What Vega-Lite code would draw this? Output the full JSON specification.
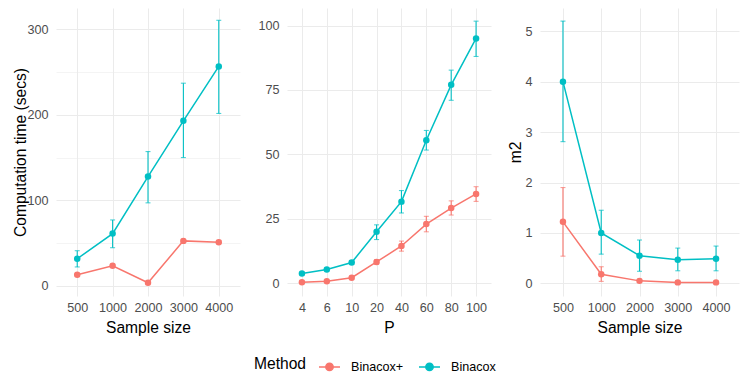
{
  "$schema": "https://vega.github.io/schema/vega-lite/v6.json",
  "padding": {"left": 13, "top": 8, "right": 5, "bottom": 5},
  "background": "white",
  "spacing": 17,
  "datasets": {
    "time_n": [
      {"x": 500, "method": "Binacox+", "value": 12.9, "lo": 11.5, "hi": 14.3},
      {"x": 1000, "method": "Binacox+", "value": 23.4, "lo": 22, "hi": 25},
      {"x": 2000, "method": "Binacox+", "value": 3.5, "lo": 2.8, "hi": 4.2},
      {"x": 3000, "method": "Binacox+", "value": 52.5, "lo": 51, "hi": 54},
      {"x": 4000, "method": "Binacox+", "value": 51, "lo": 49.5, "hi": 52.5},
      {"x": 500, "method": "Binacox", "value": 31.6, "lo": 22, "hi": 41},
      {"x": 1000, "method": "Binacox", "value": 61, "lo": 44.5, "hi": 77},
      {"x": 2000, "method": "Binacox", "value": 127.7, "lo": 97, "hi": 157},
      {"x": 3000, "method": "Binacox", "value": 193, "lo": 150, "hi": 237},
      {"x": 4000, "method": "Binacox", "value": 256.6, "lo": 201.6, "hi": 310.6}
    ],
    "time_p": [
      {"x": 4, "method": "Binacox+", "value": 0.4, "lo": 0.2, "hi": 0.6},
      {"x": 6, "method": "Binacox+", "value": 0.8, "lo": 0.5, "hi": 1.1},
      {"x": 10, "method": "Binacox+", "value": 2.2, "lo": 1.7, "hi": 2.7},
      {"x": 20, "method": "Binacox+", "value": 8.3, "lo": 7.4, "hi": 9.2},
      {"x": 40, "method": "Binacox+", "value": 14.5, "lo": 12.5, "hi": 16.4},
      {"x": 60, "method": "Binacox+", "value": 23, "lo": 20, "hi": 26},
      {"x": 80, "method": "Binacox+", "value": 29.2, "lo": 26.5, "hi": 32},
      {"x": 100, "method": "Binacox+", "value": 34.7, "lo": 31.8, "hi": 37.5},
      {"x": 4, "method": "Binacox", "value": 3.8, "lo": 3.4, "hi": 4.2},
      {"x": 6, "method": "Binacox", "value": 5.4, "lo": 4.9, "hi": 5.9},
      {"x": 10, "method": "Binacox", "value": 8.1, "lo": 7.4, "hi": 8.8},
      {"x": 20, "method": "Binacox", "value": 20, "lo": 17, "hi": 22.7},
      {"x": 40, "method": "Binacox", "value": 31.7, "lo": 27.3, "hi": 36},
      {"x": 60, "method": "Binacox", "value": 55.5, "lo": 51.7, "hi": 59.3},
      {"x": 80, "method": "Binacox", "value": 77, "lo": 71, "hi": 82.7},
      {"x": 100, "method": "Binacox", "value": 95, "lo": 88, "hi": 101.7}
    ],
    "m2_n": [
      {"x": 500, "method": "Binacox+", "value": 1.22, "lo": 0.54, "hi": 1.9},
      {"x": 1000, "method": "Binacox+", "value": 0.18, "lo": 0.04, "hi": 0.33},
      {"x": 2000, "method": "Binacox+", "value": 0.05, "lo": 0.02, "hi": 0.08},
      {"x": 3000, "method": "Binacox+", "value": 0.02, "lo": 0.01, "hi": 0.04},
      {"x": 4000, "method": "Binacox+", "value": 0.02, "lo": 0.01, "hi": 0.04},
      {"x": 500, "method": "Binacox", "value": 4.0, "lo": 2.81, "hi": 5.2},
      {"x": 1000, "method": "Binacox", "value": 1.0, "lo": 0.58, "hi": 1.45},
      {"x": 2000, "method": "Binacox", "value": 0.55, "lo": 0.24, "hi": 0.86},
      {"x": 3000, "method": "Binacox", "value": 0.47, "lo": 0.25, "hi": 0.7},
      {"x": 4000, "method": "Binacox", "value": 0.49, "lo": 0.25, "hi": 0.74}
    ]
  },
  "hconcat": [
    {
      "width": 184,
      "height": 288,
      "data": {"name": "time_n"},
      "encoding": {
        "x": {"field": "x", "type": "ordinal", "title": "Sample size", "scale": {"type": "point", "padding": 0.6}, "axis": {"labelAngle": 0, "grid": true}},
        "color": {"field": "method", "type": "nominal", "title": "Method", "scale": {"domain": ["Binacox+", "Binacox"], "range": ["#F8766D", "#00BFC4"]}}
      },
      "layer": [
        {"mark": {"type": "rule", "strokeWidth": 1.1}, "encoding": {"y": {"field": "lo", "type": "quantitative", "scale": {"domain": [-12, 325], "nice": false, "zero": false}, "title": "Computation time (secs)", "axis": {"values": [0, 50, 100, 150, 200, 250, 300], "labelExpr": "datum.value % 100 === 0 ? datum.value + '' : ''", "gridWidth": {"condition": {"test": "datum.value % 100 !== 0", "value": 0.55}, "value": 1.1}}}, "y2": {"field": "hi"}}},
        {"mark": {"type": "tick", "orient": "horizontal", "size": 5, "thickness": 1.1}, "encoding": {"y": {"field": "lo", "type": "quantitative"}}},
        {"mark": {"type": "tick", "orient": "horizontal", "size": 5, "thickness": 1.1}, "encoding": {"y": {"field": "hi", "type": "quantitative"}}},
        {"mark": {"type": "line", "strokeWidth": 1.5}, "encoding": {"y": {"field": "value", "type": "quantitative"}}},
        {"mark": {"type": "point", "filled": true, "size": 42, "opacity": 1}, "encoding": {"y": {"field": "value", "type": "quantitative"}}}
      ]
    },
    {
      "width": 204,
      "height": 288,
      "data": {"name": "time_p"},
      "encoding": {
        "x": {"field": "x", "type": "ordinal", "title": "P", "scale": {"type": "point", "padding": 0.6}, "axis": {"labelAngle": 0, "grid": true}},
        "color": {"field": "method", "type": "nominal", "title": "Method"}
      },
      "layer": [
        {"mark": {"type": "rule", "strokeWidth": 1.1}, "encoding": {"y": {"field": "lo", "type": "quantitative", "scale": {"domain": [-4.9, 106.8], "nice": false, "zero": false}, "title": null, "axis": {"values": [0, 12.5, 25, 37.5, 50, 62.5, 75, 87.5, 100], "labelExpr": "datum.value % 25 === 0 ? datum.value + '' : ''", "gridWidth": {"condition": {"test": "datum.value % 25 !== 0", "value": 0.55}, "value": 1.1}}}, "y2": {"field": "hi"}}},
        {"mark": {"type": "tick", "orient": "horizontal", "size": 5, "thickness": 1.1}, "encoding": {"y": {"field": "lo", "type": "quantitative"}}},
        {"mark": {"type": "tick", "orient": "horizontal", "size": 5, "thickness": 1.1}, "encoding": {"y": {"field": "hi", "type": "quantitative"}}},
        {"mark": {"type": "line", "strokeWidth": 1.5}, "encoding": {"y": {"field": "value", "type": "quantitative"}}},
        {"mark": {"type": "point", "filled": true, "size": 42, "opacity": 1}, "encoding": {"y": {"field": "value", "type": "quantitative"}}}
      ]
    },
    {
      "width": 199,
      "height": 288,
      "data": {"name": "m2_n"},
      "encoding": {
        "x": {"field": "x", "type": "ordinal", "title": "Sample size", "scale": {"type": "point", "padding": 0.6}, "axis": {"labelAngle": 0, "grid": true}},
        "color": {"field": "method", "type": "nominal", "title": "Method"}
      },
      "layer": [
        {"mark": {"type": "rule", "strokeWidth": 1.1}, "encoding": {"y": {"field": "lo", "type": "quantitative", "scale": {"domain": [-0.25, 5.46], "nice": false, "zero": false}, "title": "m2", "axis": {"titlePadding": 1, "values": [0, 0.5, 1, 1.5, 2, 2.5, 3, 3.5, 4, 4.5, 5], "labelExpr": "datum.value % 1 === 0 ? datum.value + '' : ''", "gridWidth": {"condition": {"test": "datum.value % 1 !== 0", "value": 0.55}, "value": 1.1}}}, "y2": {"field": "hi"}}},
        {"mark": {"type": "tick", "orient": "horizontal", "size": 5, "thickness": 1.1}, "encoding": {"y": {"field": "lo", "type": "quantitative"}}},
        {"mark": {"type": "tick", "orient": "horizontal", "size": 5, "thickness": 1.1}, "encoding": {"y": {"field": "hi", "type": "quantitative"}}},
        {"mark": {"type": "line", "strokeWidth": 1.5}, "encoding": {"y": {"field": "value", "type": "quantitative"}}},
        {"mark": {"type": "point", "filled": true, "size": 42, "opacity": 1}, "encoding": {"y": {"field": "value", "type": "quantitative"}}}
      ]
    }
  ],
  "resolve": {"scale": {"color": "shared"}},
  "config": {
    "font": "Liberation Sans",
    "view": {"stroke": null},
    "axis": {
      "domain": false,
      "ticks": false,
      "gridColor": "#EBEBEB",
      "labelColor": "#4D4D4D",
      "labelFontSize": 12.6,
      "labelFont": "Liberation Sans",
      "titleFont": "Liberation Sans",
      "titleFontSize": 15.6,
      "titleFontWeight": "normal",
      "titleColor": "#000000"
    },
    "axisX": {"labelPadding": 5, "titlePadding": 7},
    "axisY": {"labelPadding": 8, "titlePadding": -2},
    "legend": {
      "orient": "none",
      "legendX": 198,
      "legendY": 347,
      "direction": "horizontal",
      "titleOrient": "left",
      "symbolType": "M-1,0H1M-0.35,0a0.35,0.35 0 1,0 0.7,0a0.35,0.35 0 1,0 -0.7,0",
      "symbolSize": 441,
      "symbolStrokeWidth": 1.5,
      "symbolOpacity": 1,
      "titleFont": "Liberation Sans",
      "titleFontSize": 15.6,
      "titleFontWeight": "normal",
      "titleColor": "#000000",
      "labelFont": "Liberation Sans",
      "labelFontSize": 12.6,
      "labelColor": "#000000",
      "labelOffset": 10,
      "titlePadding": 11,
      "columnPadding": 12
    }
  }
}
